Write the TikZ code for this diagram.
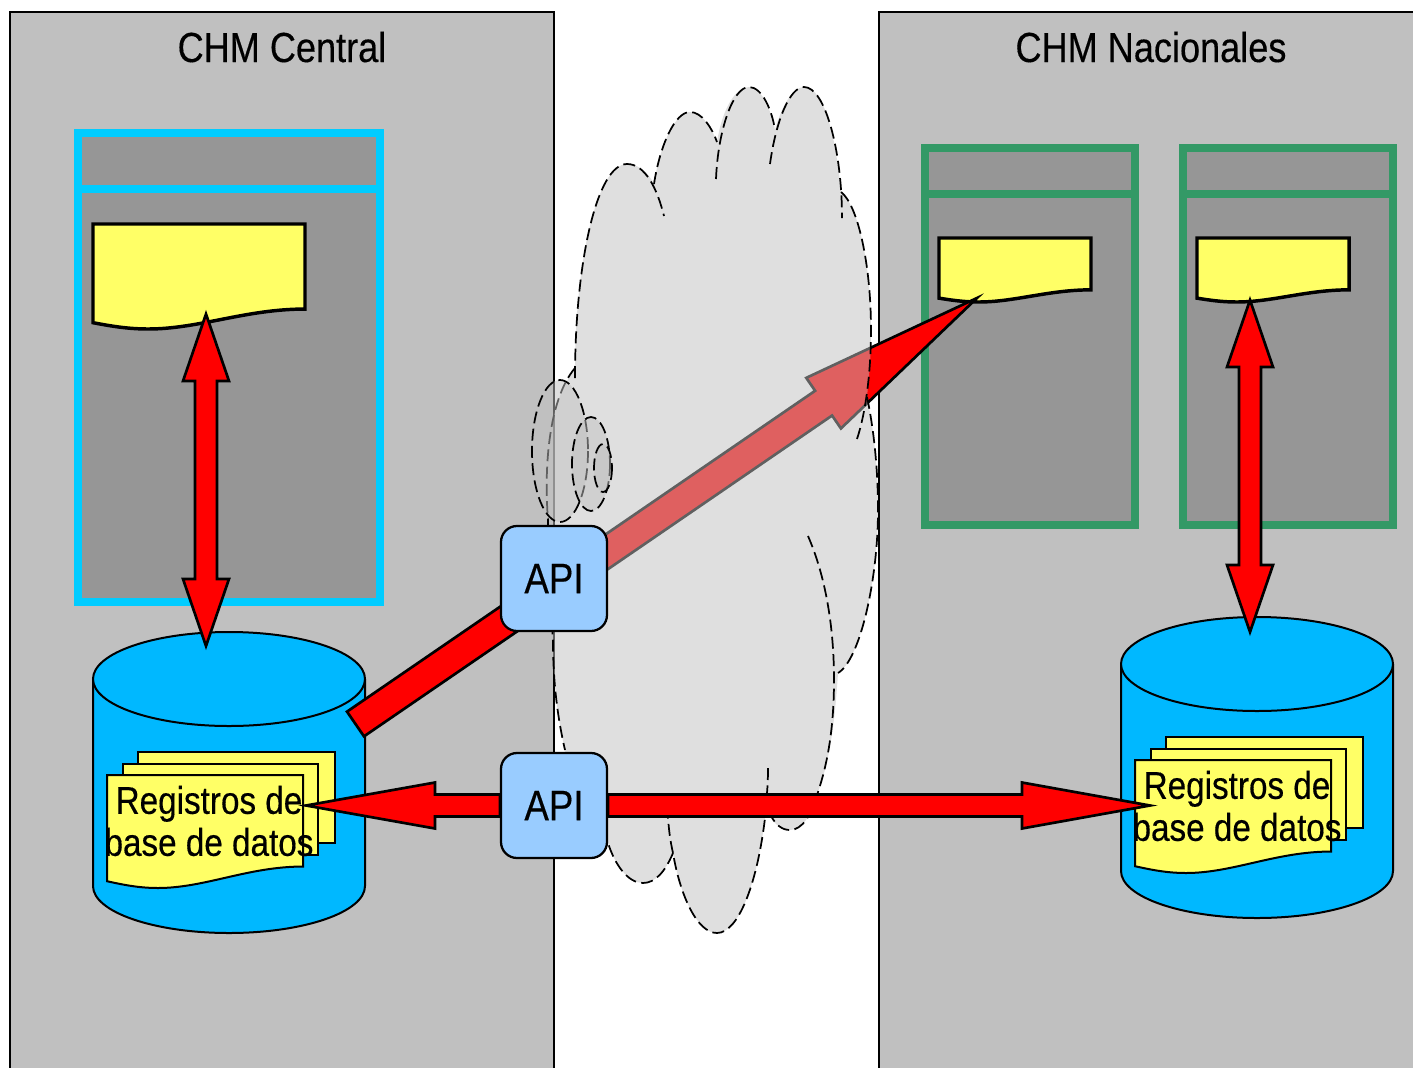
\documentclass[tikz,border=0pt]{standalone}
\usepackage{xcolor}
\usepackage{fontspec}
\usepackage{tikz}
\usetikzlibrary{calc}
\setmainfont[FakeStretch=0.86,FakeBold=0.35]{Liberation Sans}

\definecolor{panelgray}{RGB}{192,192,192}
\definecolor{windowgray}{RGB}{150,150,150}
\definecolor{framecyan}{RGB}{0,204,255}
\definecolor{framegreen}{RGB}{51,153,102}
\definecolor{sheetyellow}{RGB}{255,255,102}
\definecolor{drumblue}{RGB}{0,184,255}
\definecolor{apiblue}{RGB}{153,204,255}

\tikzset{
	panelbox/.style={draw=black,fill=panelgray,line width=1.5pt},
	cyanframe/.style={draw=framecyan,fill=windowgray,line width=6pt},
	greenframe/.style={draw=framegreen,fill=windowgray,line width=6pt},
	cloudpuff/.style={draw=black,line width=1.3pt,fill=panelgray,fill opacity=0.5,dash pattern={on 9pt off 4pt}},
	cloudedge/.style={draw=black,line width=1.3pt,dash pattern={on 9pt off 4pt}},
	apibox/.style={draw=black,fill=apiblue,line width=1.7pt,rounded corners=12pt,minimum width=79.5pt,minimum height=78.75pt,inner sep=0pt,font=\fontsize{32}{38}\selectfont},
	titletext/.style={inner sep=0.75pt,font=\fontsize{31.5}{38}\selectfont},
	regtext/.style={inner sep=0.75pt,align=center,font=\fontsize{29}{31.5}\selectfont},
	sheetline/.style={draw=black,fill=sheetyellow,line width=1.5pt},
	% block arrow with one head: head length, head half width, shaft half width
	blockone/.style n args={3}{draw=black,fill=red,line width=2pt,to path={
		($(\tikztostart)!#3!90:(\tikztotarget)$)
		-- ($($(\tikztotarget)!#1!(\tikztostart)$)!#3!90:(\tikztotarget)$)
		-- ($($(\tikztotarget)!#1!(\tikztostart)$)!#2!90:(\tikztotarget)$)
		-- (\tikztotarget)
		-- ($($(\tikztotarget)!#1!(\tikztostart)$)!#2!-90:(\tikztotarget)$)
		-- ($($(\tikztotarget)!#1!(\tikztostart)$)!#3!-90:(\tikztotarget)$)
		-- ($(\tikztostart)!#3!-90:(\tikztotarget)$) -- cycle}},
	% same with a head at both ends
	blocktwo/.style n args={3}{draw=black,fill=red,line width=2pt,to path={
		(\tikztostart)
		-- ($($(\tikztostart)!#1!(\tikztotarget)$)!#2!90:(\tikztotarget)$)
		-- ($($(\tikztostart)!#1!(\tikztotarget)$)!#3!90:(\tikztotarget)$)
		-- ($($(\tikztotarget)!#1!(\tikztostart)$)!#3!90:(\tikztotarget)$)
		-- ($($(\tikztotarget)!#1!(\tikztostart)$)!#2!90:(\tikztotarget)$)
		-- (\tikztotarget)
		-- ($($(\tikztotarget)!#1!(\tikztostart)$)!#2!-90:(\tikztotarget)$)
		-- ($($(\tikztotarget)!#1!(\tikztostart)$)!#3!-90:(\tikztotarget)$)
		-- ($($(\tikztostart)!#1!(\tikztotarget)$)!#3!-90:(\tikztotarget)$)
		-- ($($(\tikztostart)!#1!(\tikztotarget)$)!#2!-90:(\tikztotarget)$) -- cycle}},
	docwave/.pic={
		\draw [pic actions] (0,0) -- (1,0) -- (1,0.81) .. controls (0.72,0.81) and (0.5,1) .. (0.26,1) .. controls (0.16,1) and (0.08,0.97) .. (0,0.94) -- cycle ;
	},
	recordsdb/.pic={
		\draw [draw=black,fill=drumblue,line width=1.5pt] (-136,0) -- (-136,207) arc [start angle=180,end angle=0,x radius=136,y radius=47] -- (136,0) ;
		\draw [draw=black,fill=drumblue,line width=1.5pt] (0,0) ellipse [x radius=136,y radius=47] ;
		\draw [sheetline] (-91,73) rectangle (106,164) ;
		\draw [sheetline] (-106,85) rectangle (89,176) ;
		\pic [sheetline,xscale=196,yscale=-113] at (-122,96) {docwave};
		\draw (-20,142) node (-reg) [regtext] {Registros de\\base de datos};
	}
}

\begin{document}
\begin{tikzpicture}[x=0.75pt,y=0.75pt,yscale=-1,xscale=1]
	\useasboundingbox (0,0) rectangle (1413,1067);

	%Shape: Rectangle
	\draw [panelbox] (10,12) rectangle (554,1080) ;
	\draw [panelbox] (879,12) rectangle (1425,1080) ;

	% Text Node
	\draw (282,47) node (titlecentral) [titletext] {CHM Central};
	% Text Node
	\draw (1151,47) node (titlenacional) [titletext] {CHM Nacionales};

	%Shape: Rectangle
	\draw [cyanframe] (78,133) rectangle (380,602) ;
	\draw [cyanframe] (78,189) -- (380,189) ;
	\draw [greenframe] (925,148) rectangle (1135,525) ;
	\draw [greenframe] (925,193.5) -- (1135,193.5) ;
	\draw [greenframe] (1183,148) rectangle (1393,525) ;
	\draw [greenframe] (1183,193.5) -- (1393,193.5) ;

	%Shape: Document
	\pic [sheetline,line width=2.6pt,xscale=212,yscale=-105] at (93,224) {docwave};
	\pic [sheetline,line width=2.6pt,xscale=152,yscale=-64] at (939,238) {docwave};
	\pic [sheetline,line width=2.6pt,xscale=152,yscale=-64] at (1197,238) {docwave};

	%Shape: Can
	\pic (dbcentral) [yscale=-1] at (229,679) {recordsdb};
	\pic (dbnacional) [yscale=-1] at (1257,664) {recordsdb};

	\coordinate (doccentraltip) at (206,314) ;
	\coordinate (dbcentraltip) at (206,646) ;
	\coordinate (docnacionaltip) at (1250,300) ;
	\coordinate (dbnacionaltip) at (1250,632) ;
	\coordinate (dbcentrallink) at (355.5,724) ;
	\coordinate (docgreentip) at (977,298) ;
	\coordinate (regcentraltip) at (306,805.5) ;
	\coordinate (regnacionaltip) at (1150,805.5) ;

	%Straight Lines
	\draw [blocktwo={50.25pt}{17.25pt}{8.25pt}] (doccentraltip) to (dbcentraltip) ;
	\draw [blocktwo={50.25pt}{17.25pt}{8.25pt}] (docnacionaltip) to (dbnacionaltip) ;
	\draw [blockone={139.5pt}{23pt}{11.25pt}] (dbcentrallink) to (docgreentip) ;

	%Shape: Cloud
	\path [fill=panelgray,fill opacity=0.5] (575,370) .. controls (575,262) and (597,164) .. (627,164) .. controls (638,164) and (648,172) .. (654,184) .. controls (660,145) and (675,112) .. (690,112) .. controls (702,112) and (712,128) .. (717,142) .. controls (722,110) and (735,87) .. (749,87) .. controls (760,87) and (770,105) .. (775,130) .. controls (782,105) and (793,87) .. (804,87) .. controls (825,87) and (836,140) .. (841,192) .. controls (858,205) and (871,265) .. (871,330) .. controls (871,360) and (869,375) .. (867,397) .. controls (874,430) and (878,470) .. (878,510) .. controls (878,580) and (860,660) .. (838,673) .. controls (835,720) and (830,760) .. (818,792) .. controls (812,815) and (802,830) .. (790,830) .. controls (782,830) and (775,825) .. (770,816) -- (765,818) .. controls (757,885) and (738,933) .. (717,933) .. controls (697,933) and (680,895) .. (673,853) .. controls (665,872) and (655,883) .. (643,883) .. controls (628,883) and (615,865) .. (608,843) .. controls (585,820) and (570,780) .. (565,750) .. controls (557,715) and (553,680) .. (553,640) .. controls (550,600) and (548,560) .. (548,520) .. controls (544,470) and (548,400) .. (575,370) -- cycle ;
	\draw [cloudedge] (575,378) .. controls (575,262) and (597,164) .. (627,164) .. controls (645,164) and (657,188) .. (664,216) ;
	\draw [cloudedge] (654,184) .. controls (660,145) and (675,112) .. (690,112) .. controls (702,112) and (712,128) .. (717,142) ;
	\draw [cloudedge] (716,179) .. controls (718,130) and (733,87) .. (749,87) .. controls (762,87) and (772,110) .. (775,130) ;
	\draw [cloudedge] (770,164) .. controls (776,120) and (790,87) .. (804,87) .. controls (825,87) and (842,150) .. (842,218) ;
	\draw [cloudedge] (841,192) .. controls (858,205) and (871,265) .. (871,330) .. controls (871,375) and (865,415) .. (857,439) ;
	\draw [cloudedge] (867,397) .. controls (874,430) and (878,470) .. (878,510) .. controls (878,580) and (860,660) .. (838,673) ;
	\draw [cloudedge] (808,536) .. controls (825,575) and (834,625) .. (834,680) .. controls (834,730) and (827,765) .. (818,792) .. controls (812,815) and (802,830) .. (790,830) .. controls (782,830) and (776,825) .. (771,816) ;
	\draw [cloudedge] (768,768) .. controls (768,790) and (766,800) .. (765,818) .. controls (757,885) and (738,933) .. (717,933) .. controls (697,933) and (680,895) .. (673,853) .. controls (670,840) and (669,830) .. (668,818) ;
	\draw [cloudedge] (673,853) .. controls (665,872) and (655,883) .. (643,883) .. controls (628,883) and (615,865) .. (608,843) ;
	\draw [cloudedge] (575,368) .. controls (548,400) and (544,470) .. (548,520) .. controls (548,560) and (550,600) .. (553,640) .. controls (553,680) and (557,715) .. (565,750) ;

	%Shape: Ellipse
	\draw [cloudpuff] (560,451) ellipse [x radius=28,y radius=71] ;
	\draw [cloudpuff] (591,464) ellipse [x radius=19,y radius=47] ;
	\draw [cloudpuff] (603,468) ellipse [x radius=9,y radius=24] ;

	% Text Node
	\draw (554,578.5) node (apilink) [apibox] {API};
	\draw (554,805.5) node (apidata) [apibox] {API};

	%Straight Lines
	\draw [blockone={96.75pt}{17.25pt}{8.25pt}] (apidata.west) to (regcentraltip) ;
	\draw [blockone={96pt}{17.25pt}{8.25pt}] (apidata.east) to (regnacionaltip) ;
\end{tikzpicture}
\end{document}
